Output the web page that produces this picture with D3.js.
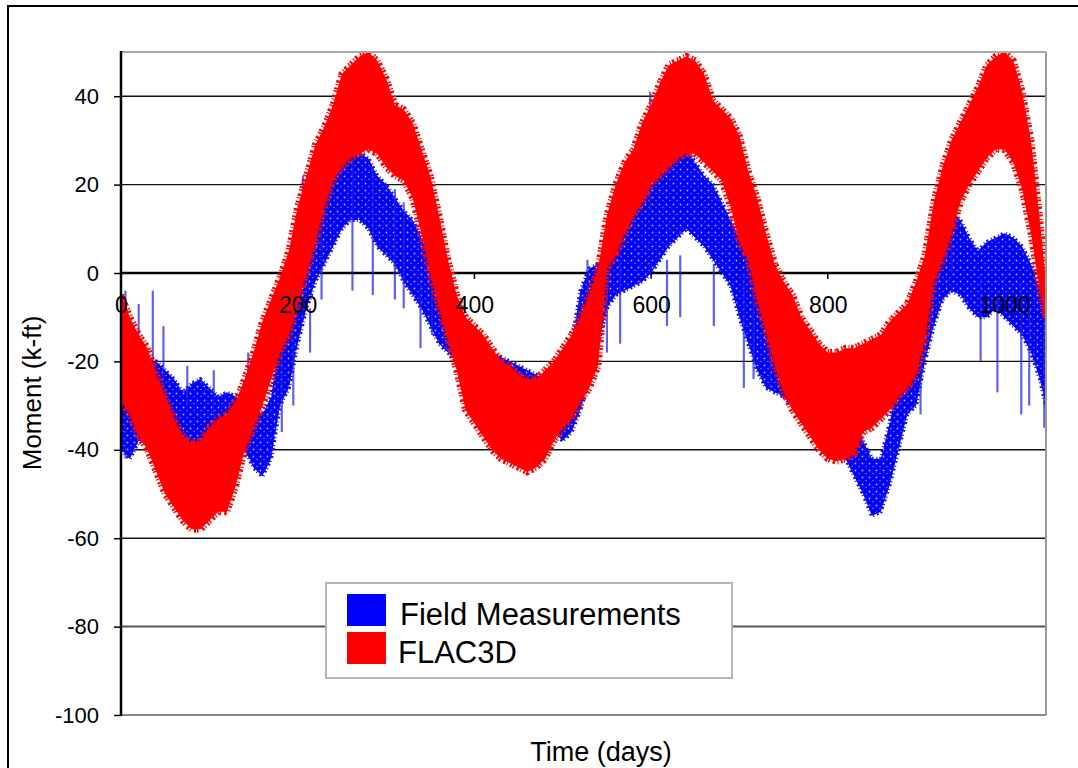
<!DOCTYPE html>
<html>
<head>
<meta charset="utf-8">
<script src="https://cdn.jsdelivr.net/npm/d3@7"></script>
<style>
  body { margin: 0; background: #fff; }
  svg { display: block; font-family: "Liberation Sans", Arial, sans-serif; }
</style>
</head>
<body>
<div id="chart"></div>
<script>
// sample days (every 10 days, last point at end of record)
const days = [0,10,20,30,40,50,60,70,80,90,100,110,120,130,140,150,160,170,180,190,
  200,210,220,230,240,250,260,270,280,290,300,310,320,330,340,350,360,370,380,390,
  400,410,420,430,440,450,460,470,480,490,500,510,520,530,540,550,560,570,580,590,
  600,610,620,630,640,650,660,670,680,690,700,710,720,730,740,750,760,770,780,790,
  800,810,820,830,840,850,860,870,880,890,900,910,920,930,940,950,960,970,980,990,
  1000,1010,1020,1030,1040,1047];

// FLAC3D band, upper / lower envelope (k-ft)
const flacUpper = [-5,-10,-14,-17,-23,-28,-33,-37,-38.5,-38,
  -35,-33,-32,-29,-24,-18,-11,-6,-1,5,
  15,22,29,33,38,45,47,49,50,48,
  44,38,37,34,28,22,13,3,-5,-10,
  -12,-14,-17,-20,-21,-23,-24,-24,-22,-20,
  -17,-14,-10,-5,1,13,20,25,28,34,
  38,43,47,48,49,48,45,39,37,35,
  31,23,17,9,2,-2,-5,-10,-13,-16,
  -18,-18,-17,-17,-16,-15,-14,-11,-9,-7,
  -2,4,16,24,30,34,38,42,47,49,
  50,48,41,30,12,-2];
const flacLower = [-29,-32,-37,-40,-45,-50,-53,-56,-58,-58,
  -56,-54,-54,-48,-40,-35,-30,-24,-18,-14,
  -7,0,7,15,21,24,26,27,28,27,
  24,22,21,17,9,0,-8,-15,-22,-31,
  -34,-37,-40,-42,-43,-44,-45,-44,-42,-38,
  -35,-33,-29,-26,-21,1,4,9,13,16,
  20,22,24,26,27,27,25,23,21,15,
  7,3,-6,-13,-21,-27,-31,-34,-37,-40,
  -42,-42.6,-42,-41,-36,-35,-33,-31,-28,-26,
  -23,-15,-2,3,9,16,20,23,26,28,
  28,25,19,9,-4,-10];

// Field measurements band, high / low (k-ft)
const fieldHigh = [-5,-12,-18,-20,-20,-22,-24,-27,-25,-24,
  -26,-28,-27,-28,-30,-30,-32,-28,-14,-8,
  0,8,14,20,22,25,28,27,26,22,
  20,17,14,12,8,3,0,-4,-8,-12,
  -14,-16,-18,-19,-20,-21,-22,-23,-24,-25,
  -24,-16,-4,1,2,4,7,10,13,17,
  20,22,24,26,28,25,22,20,16,12,
  8,3,0,-4,-8,-13,-17,-20,-24,-26,
  -28,-30,-32,-34,-38,-42,-42,-34,-24,-18,
  -10,-2,3,8,14,12,8,5,7,8,
  9,8,6,2,-4,-8];
const fieldLow = [-40,-42,-38,-36,-34,-36,-38,-40,-38,-39,
  -38,-37,-36,-38,-40,-44,-46,-42,-30,-26,
  -16,-8,-2,2,6,10,12,12,10,6,
  4,2,-2,-5,-8,-12,-16,-18,-20,-22,
  -24,-25,-26,-27,-27,-28,-28,-29,-30,-36,
  -38,-36,-31,-24,-16,-8,-5,-4,-3,-2,
  0,3,6,8,10,8,6,3,0,-3,
  -10,-16,-22,-26,-27,-28,-30,-32,-33,-35,
  -38,-40,-42,-46,-50,-55,-54,-48,-40,-32,
  -30,-20,-12,-6,-4,-5,-8,-10,-10,-8,
  -10,-12,-14,-18,-24,-30];

// isolated field-measurement streaks: [day, top, bottom]
const fieldSpikes = [[5,-4,-42],[20,-7,-28],[36,-4,-25],[48,-12,-30],[75,-21,-30],
  [105,-22,-33],[144,-18,-30],[182,-16,-36],[195,-10,-30],[206,22,8],[214,-8,-18],
  [227,10,-6],[262,26,-4],[285,24,-5],[310,19,-6],[320,16,-8],[339,-2,-17],
  [352,2,-14],[385,-6,-20],[528,3,-16],[550,-2,-18],[565,3,-16],[599,41,14],
  [618,3,-12],[633,4,-10],[671,2,-12],[705,0,-26],[716,-2,-24],[735,-4,-26],
  [905,-20,-32],[940,17,0],[973,0,-20],[992,-4,-27],[1019,-2,-32],[1028,-6,-30],
  [1045,-6,-35]];

const xTicks = [0, 200, 400, 600, 800, 1000];
const yTicks = [-100, -80, -60, -40, -20, 0, 20, 40];
const legendItems = [
  { label: "Field Measurements", color: "#0000ff" },
  { label: "FLAC3D", color: "#ff0000" }
];

const width = 1078, height = 768;
const plot = { left: 121, right: 1046, top: 52, bottom: 715 };

const svg = d3.select("#chart").append("svg")
  .attr("width", width)
  .attr("height", height);

// speckled fill for the field data
const defs = svg.append("defs");
const speckle = defs.append("pattern")
  .attr("id", "speckle")
  .attr("patternUnits", "userSpaceOnUse")
  .attr("width", 7).attr("height", 7);
speckle.append("rect").attr("width", 7).attr("height", 7).attr("fill", "#0000f2");
speckle.append("circle").attr("cx", 1.5).attr("cy", 1.5).attr("r", 0.9).attr("fill", "#dde0ff").attr("opacity", 0.8);
speckle.append("circle").attr("cx", 5).attr("cy", 4.5).attr("r", 0.7).attr("fill", "#ffffff").attr("opacity", 0.6);

// outer frame
svg.append("rect")
  .attr("x", 8).attr("y", 6)
  .attr("width", 1200).attr("height", 900)
  .attr("fill", "#fff")
  .attr("stroke", "#000")
  .attr("stroke-width", 2);

const x = d3.scaleLinear().domain([0, 1047]).range([plot.left, plot.right]);
const y = d3.scaleLinear().domain([-100, 50]).range([plot.bottom, plot.top]);

const clip = defs.append("clipPath").attr("id", "plotclip");
clip.append("rect")
  .attr("x", plot.left).attr("y", plot.top)
  .attr("width", plot.right - plot.left).attr("height", plot.bottom - plot.top);

// gridlines
svg.append("g")
  .selectAll("line")
  .data(yTicks.filter(v => v > -100 && v !== 0))
  .enter()
  .append("line")
  .attr("x1", plot.left).attr("x2", plot.right)
  .attr("y1", d => y(d)).attr("y2", d => y(d))
  .attr("stroke", d => d === -80 ? "#555" : "#111")
  .attr("stroke-width", d => d === -80 ? 2 : 1.4);

// zero line with its ticks
svg.append("line")
  .attr("x1", plot.left).attr("x2", plot.right)
  .attr("y1", y(0)).attr("y2", y(0))
  .attr("stroke", "#000").attr("stroke-width", 2.5);
svg.append("g")
  .selectAll("line")
  .data(xTicks)
  .enter()
  .append("line")
  .attr("x1", d => x(d)).attr("x2", d => x(d))
  .attr("y1", y(0)).attr("y2", y(0) + 6)
  .attr("stroke", "#000").attr("stroke-width", 1.5);

const data = svg.append("g").attr("clip-path", "url(#plotclip)");

// field measurements (blue)
const fieldRows = days.map((d, i) => ({ d, hi: fieldHigh[i], lo: fieldLow[i] }));
data.append("path")
  .datum(fieldRows)
  .attr("fill", "url(#speckle)")
  .attr("stroke", "#1010f0")
  .attr("stroke-width", 4)
  .attr("stroke-dasharray", "2 3 1 2")
  .attr("d", d3.area().x(r => x(r.d)).y0(r => y(r.lo)).y1(r => y(r.hi)));

data.append("g")
  .selectAll("line")
  .data(fieldSpikes)
  .enter()
  .append("line")
  .attr("x1", s => x(s[0])).attr("x2", s => x(s[0]))
  .attr("y1", s => y(s[1])).attr("y2", s => y(s[2]))
  .attr("stroke", "#2020e0")
  .attr("stroke-opacity", 0.7)
  .attr("stroke-width", 2.2);

// FLAC3D (red) with a serrated edge
const flacRows = days.map((d, i) => ({ d, hi: flacUpper[i], lo: flacLower[i] }));
data.append("path")
  .datum(flacRows)
  .attr("fill", "#ff0000")
  .attr("stroke", "#ff0000")
  .attr("stroke-width", 7)
  .attr("stroke-dasharray", "1.5 1 2 2.5 1 1.5 2.5 3")
  .attr("d", d3.area().x(r => x(r.d)).y0(r => y(r.lo)).y1(r => y(r.hi)));

// plot borders
svg.append("line")
  .attr("x1", plot.left).attr("x2", plot.right)
  .attr("y1", plot.top).attr("y2", plot.top)
  .attr("stroke", "#a8a8a8").attr("stroke-width", 2);
svg.append("line")
  .attr("x1", plot.right).attr("x2", plot.right)
  .attr("y1", plot.top).attr("y2", plot.bottom)
  .attr("stroke", "#999").attr("stroke-width", 2);
svg.append("line")
  .attr("x1", plot.left).attr("x2", plot.right)
  .attr("y1", plot.bottom).attr("y2", plot.bottom)
  .attr("stroke", "#888").attr("stroke-width", 2);

// y axis
const yAxis = svg.append("g")
  .attr("transform", `translate(${plot.left},0)`)
  .call(d3.axisLeft(y).tickValues(yTicks).tickSize(7).tickPadding(15).tickFormat(d => String(d)));
yAxis.select(".domain").remove();
yAxis.selectAll(".tick line").attr("stroke", "#000").attr("stroke-width", 1.5);
yAxis.selectAll(".tick text")
  .attr("font-size", 22)
  .attr("font-family", "Liberation Sans, Arial, sans-serif")
  .attr("fill", "#000");
svg.append("line")
  .attr("x1", plot.left).attr("x2", plot.left)
  .attr("y1", plot.top - 1).attr("y2", plot.bottom + 1)
  .attr("stroke", "#000").attr("stroke-width", 2.5);

// x tick labels sit on top of the data
const xAxis = svg.append("g")
  .attr("transform", `translate(0,${y(0)})`)
  .call(d3.axisBottom(x).tickValues(xTicks).tickSize(6).tickPadding(18).tickFormat(d => String(d)));
xAxis.select(".domain").remove();
xAxis.selectAll(".tick line").remove();
xAxis.selectAll(".tick text")
  .attr("font-size", 23)
  .attr("font-family", "Liberation Sans, Arial, sans-serif")
  .attr("fill", "#000");

// axis titles
svg.append("text")
  .attr("transform", "translate(41,393) rotate(-90)")
  .attr("text-anchor", "middle")
  .attr("font-size", 26)
  .text("Moment (k-ft)");
svg.append("text")
  .attr("x", 601).attr("y", 761)
  .attr("text-anchor", "middle")
  .attr("font-size", 27)
  .text("Time (days)");

// legend
const legend = svg.append("g");
legend.append("rect")
  .attr("x", 326).attr("y", 583)
  .attr("width", 406).attr("height", 95)
  .attr("fill", "#fff")
  .attr("stroke", "#b5b5b5")
  .attr("stroke-width", 2);
const item = legend.selectAll("g.item")
  .data(legendItems)
  .enter()
  .append("g")
  .attr("class", "item")
  .attr("transform", (d, i) => `translate(347,${594 + i * 38})`);
item.append("rect")
  .attr("width", 39).attr("height", 32)
  .attr("fill", d => d.color);
item.append("text")
  .attr("x", (d, i) => i === 0 ? 53 : 51)
  .attr("y", 31)
  .attr("font-size", 31)
  .attr("fill", "#000")
  .text(d => d.label);
</script>
</body>
</html>
